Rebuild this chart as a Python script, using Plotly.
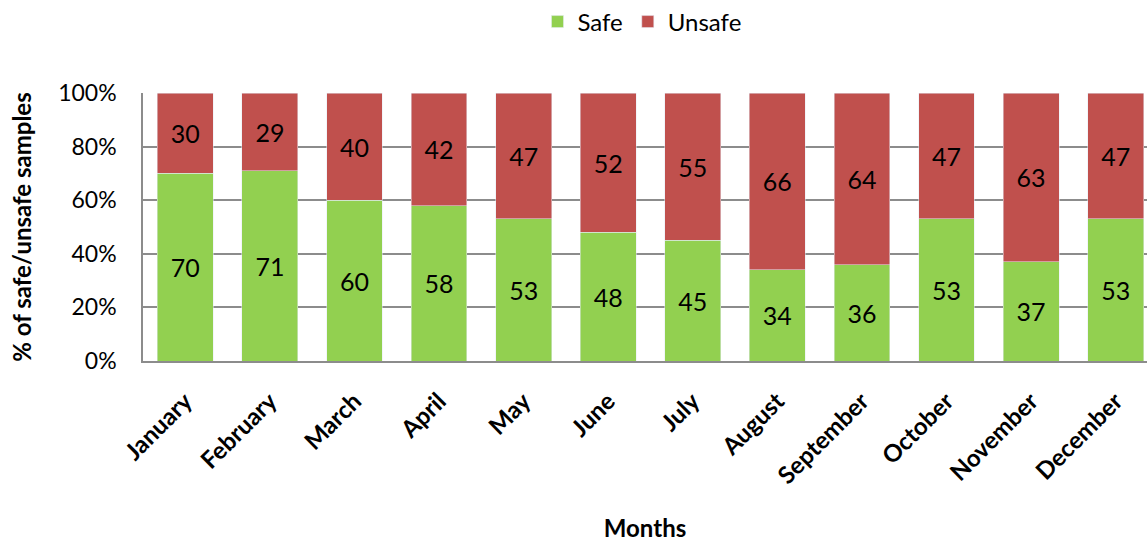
import plotly.graph_objects as go

months = ["January", "February", "March", "April", "May", "June",
          "July", "August", "September", "October", "November", "December"]
safe = [70, 71, 60, 58, 53, 48, 45, 34, 36, 53, 37, 53]
unsafe = [30, 29, 40, 42, 47, 52, 55, 66, 64, 47, 63, 47]
y_ticks = [0, 20, 40, 60, 80, 100]
y_tick_labels = ["0%", "20%", "40%", "60%", "80%", "100%"]

FONT = "Lato"
GRID = "#8c8c8c"

fig = go.Figure()
fig.add_trace(go.Bar(
    x=months, y=safe, name="Safe", marker_color="#92D050",
    text=safe, textposition="inside", insidetextanchor="middle",
    textangle=0, constraintext="none",
    textfont=dict(family=FONT, size=25, color="black"),
))
fig.add_trace(go.Bar(
    x=months, y=unsafe, name="Unsafe", marker_color="#C0504D",
    text=unsafe, textposition="inside", insidetextanchor="middle",
    textangle=0, constraintext="none",
    textfont=dict(family=FONT, size=25, color="black"),
))

fig.update_layout(
    width=1147, height=542,
    barmode="stack", bargap=0.34,
    plot_bgcolor="white", paper_bgcolor="white",
    margin=dict(l=143, r=0, t=93, b=181, autoexpand=False),
    font=dict(family=FONT, size=24, color="black"),
    legend=dict(orientation="h", traceorder="normal",
                x=0.497, xanchor="center",
                y=1.265, yanchor="middle",
                font=dict(family=FONT, size=24),
                itemwidth=30),
)
fig.update_xaxes(
    range=[-0.5, 11.37], automargin=False,
    tickangle=-45,
    tickfont=dict(family=FONT, size=24, color="black", weight="bold"),
    ticks="outside", ticklen=15, tickcolor="rgba(0,0,0,0)",
    showline=True, linecolor=GRID, linewidth=1.5,
    title=dict(text="Months", font=dict(family=FONT, size=24, weight="bold"),
               standoff=35),
)
fig.update_yaxes(
    range=[0, 100], tickvals=y_ticks, ticktext=y_tick_labels, automargin=False,
    tickfont=dict(family=FONT, size=23, color="black"),
    showgrid=True, gridcolor=GRID, gridwidth=1.5,
    showline=True, linecolor=GRID, linewidth=1.5,
    ticks="outside", ticklen=20, tickcolor="rgba(0,0,0,0)",
    title=dict(text="% of safe/unsafe samples",
               font=dict(family=FONT, size=24, weight="bold"), standoff=20),
)

fig.write_html("out.html")
